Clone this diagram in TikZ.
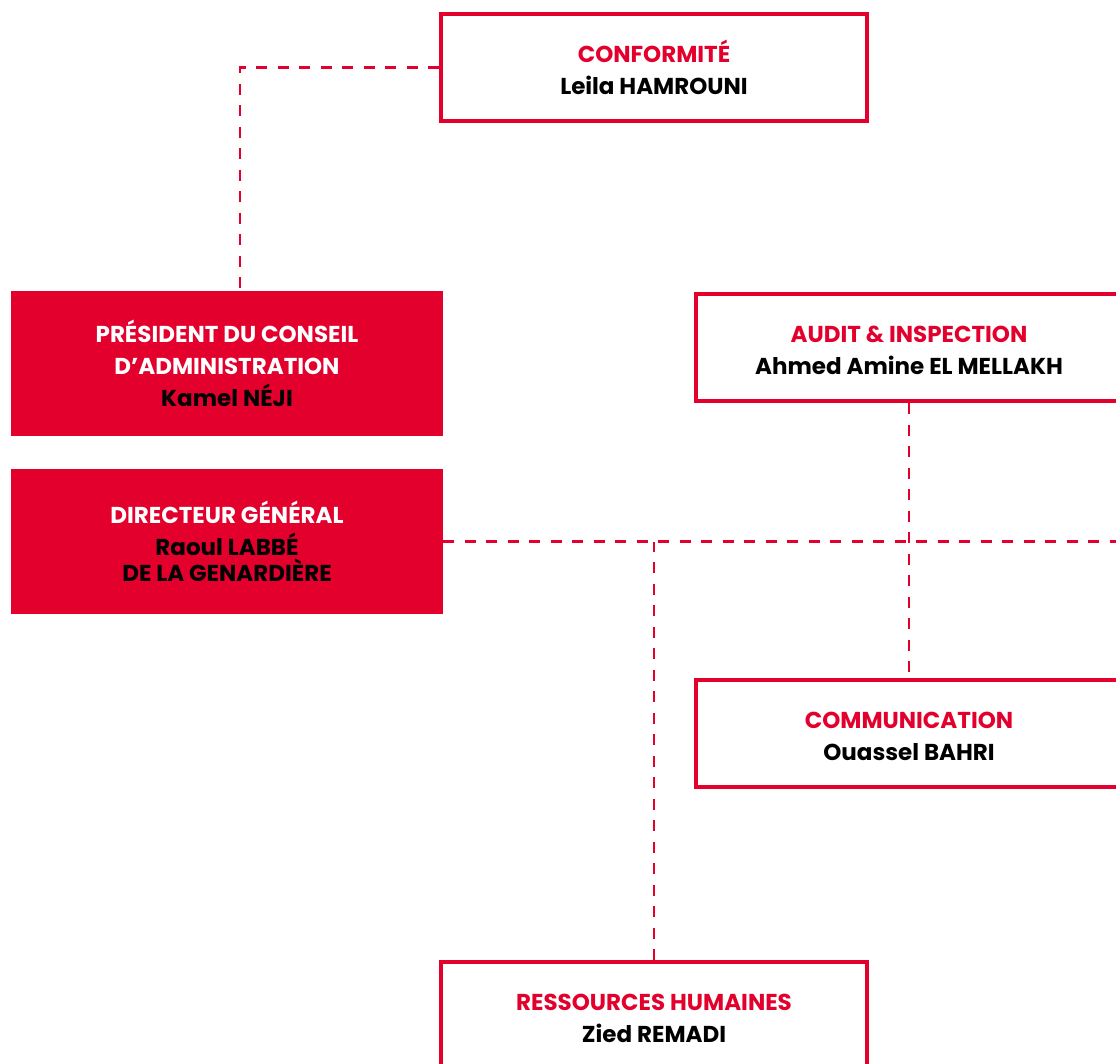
\documentclass[tikz,border=0pt]{standalone}
\usepackage{fontspec}
\setmainfont{Poppins}
\usetikzlibrary{positioning}
\definecolor{brandred}{HTML}{E3002C}
\newcommand{\orgtxt}{\fontsize{23}{32}\selectfont\bfseries}
\newcommand{\orgttl}[1]{\textcolor{brandred}{\vphantom{É}#1}}

\begin{document}
\begin{tikzpicture}[x=1pt,y=-1pt,
  linebox/.style={draw=brandred,line width=4pt,fill=white,minimum width=426pt,minimum height=107pt,align=center,font=\orgtxt},
  fillbox/.style={fill=brandred,minimum width=432pt,minimum height=145pt,align=center,font=\orgtxt},
  dashline/.style={brandred,line width=2.5pt,dash pattern=on 11pt off 10.5pt}]
 \useasboundingbox (0,0) rectangle (1116,1063);
 \clip (0,0) rectangle (1116,1063);
 % boxes
 \node[linebox] (conf) at (654,67.5) {\orgttl{CONFORMITÉ}\\Leila HAMROUNI};
 \node[fillbox] (pca) at (227,363.5) {\textcolor{white}{PRÉSIDENT DU CONSEIL}\\\textcolor{white}{D’ADMINISTRATION}\\Kamel NÉJI};
 \node[fillbox] (dg) at (227,541.5) {\textcolor{white}{DIRECTEUR GÉNÉRAL}\\Raoul LABBÉ\\[-6pt]DE LA GENARDIÈRE};
 \node[linebox] (audit) at (909,347.5) {\orgttl{AUDIT \& INSPECTION}\\Ahmed Amine EL MELLAKH};
 \node[linebox] (comm) at (909,733.5) {\orgttl{COMMUNICATION}\\Ouassel BAHRI};
 \node[linebox] (rh) at (654,1015.5) {\orgttl{RESSOURCES HUMAINES}\\Zied REMADI};
 \coordinate (edge) at (1130,541.5);
 % links
 \draw[dashline] (conf.west) -| ([xshift=13pt]pca.north);
 \draw[dashline] (audit.south) -- (comm.north);
 \draw[dashline] (dg.east) -- (edge);
 \draw[dashline] (rh.north) -- (rh.north |- dg.east);
\end{tikzpicture}
\end{document}
